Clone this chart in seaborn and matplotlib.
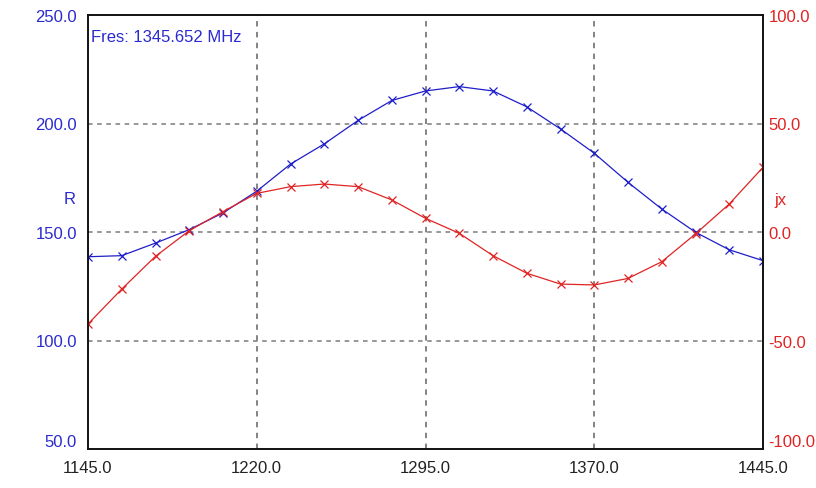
import numpy as np
import pandas as pd
import seaborn as sns
import matplotlib.pyplot as plt

# 频率点 (MHz)
freq = [1145, 1160, 1175, 1190, 1205, 1220, 1235, 1250, 1265, 1280, 1295,
        1310, 1325, 1340, 1355, 1370, 1385, 1400, 1415, 1430, 1445]
# 电阻 R
r_vals = [138.6, 139.1, 144.9, 151.1, 158.8, 168.8, 181.3, 190.6, 201.4, 210.6, 215.0,
          217.0, 215.0, 207.7, 197.5, 186.3, 172.9, 160.6, 149.9, 141.8, 136.8]
# 电抗 jx
jx_vals = [-42.4, -26.3, -11.2, 0.6, 9.4, 17.8, 20.9, 22.1, 20.9, 14.8, 6.3,
           -0.6, -10.9, -19.0, -24.0, -24.4, -21.4, -13.7, -0.9, 12.9, 29.8]

x_ticks = [1145, 1220, 1295, 1370, 1445]
r_ticks = [50, 100, 150, 200, 250]
jx_ticks = [-100, -50, 0, 50, 100]
fres_text = "Fres: 1345.652 MHz"

df = pd.DataFrame({"freq": freq, "R": r_vals, "jx": jx_vals})

sns.set_style("white")
plt.rcParams['font.family'] = ['Liberation Sans', 'DejaVu Sans']

blue = '#1f1fc8'
red = '#e02424'

fig = plt.figure(figsize=(8.16, 4.89), dpi=100)
ax = fig.add_axes([88 / 816, 1 - 450 / 489, 675 / 816, 434 / 489])
ax2 = ax.twinx()

sns.lineplot(data=df, x="freq", y="R", ax=ax, color=blue, marker='x', markersize=6,
             markeredgewidth=0.9, linewidth=0.9, markeredgecolor=blue)
sns.lineplot(data=df, x="freq", y="jx", ax=ax2, color=red, marker='x', markersize=6,
             markeredgewidth=0.9, linewidth=0.9, markeredgecolor=red)

ax.set_xlim(1145, 1445)
ax.set_ylim(50, 250)
ax2.set_ylim(-100, 100)

# 网格线
for xv in x_ticks[1:-1]:
    ax.axvline(xv, color='#7a7a7a', linestyle=(0, (3, 3)), linewidth=1.3, zorder=0)
for yv in r_ticks[1:-1]:
    ax.axhline(yv, color='#7a7a7a', linestyle=(0, (3, 3)), linewidth=1.1, zorder=0)

ax.set_xticks(x_ticks)
ax.set_xticklabels([f"{v:.1f}" for v in x_ticks], fontsize=12, color='#222222')
ax.set_yticks(r_ticks)
ax.set_yticklabels([f"{v:.1f}" for v in r_ticks], fontsize=12, color='#2a2ad0')
ax2.set_yticks(jx_ticks)
ax2.set_yticklabels([f"{v:.1f}" for v in jx_ticks], fontsize=12, color=red)
ax.tick_params(axis='both', length=0, pad=8)
ax2.tick_params(axis='y', length=0, pad=4)
ax.get_yticklabels()[0].set_va('bottom')
ax2.get_yticklabels()[0].set_va('bottom')

ax.set_xlabel("")
ax.set_ylabel("")
ax2.set_ylabel("")
for sp in list(ax.spines.values()) + list(ax2.spines.values()):
    sp.set_color('#111111')
    sp.set_linewidth(1.2)

fig.text(70 / 816, 1 - 200 / 489, "R", color='#2a2ad0', fontsize=12, ha='center', va='center')
fig.text(780 / 816, 1 - 200 / 489, "jx", color=red, fontsize=12, ha='center', va='center')
ax.text(0.005, 0.95, fres_text, transform=ax.transAxes, color='#2a2ad0', fontsize=12,
        ha='left', va='center')

plt.savefig("out.png", dpi=100)
